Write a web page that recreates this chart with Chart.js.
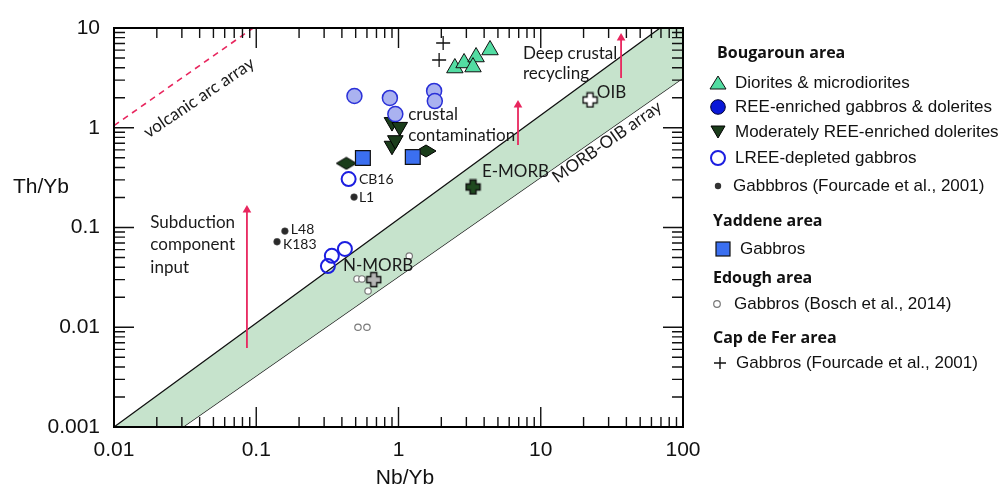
<!DOCTYPE html>
<html>
<head>
<meta charset="utf-8">
<title>Th/Yb vs Nb/Yb</title>
<script src="https://cdn.jsdelivr.net/npm/chart.js@4.4.1/dist/chart.umd.min.js"></script>
<style>
    html, body { margin: 0; padding: 0; background: #fff; }
    #wrap { position: relative; width: 1005px; height: 484px; overflow: hidden; }
    #chartBox { position: absolute; left: 0; top: 0; width: 1005px; height: 484px; }
    .axis-title {
        position: absolute;
        font-family: 'Liberation Sans', Arial, sans-serif;
        font-size: 21px;
        color: #111;
        white-space: nowrap;
        transform: translateY(-50%);
    }
    .lg-head {
        position: absolute;
        font-family: 'Open Sans', sans-serif;
        font-weight: 700;
        font-size: 16px;
        color: #111;
        white-space: nowrap;
        transform: translateY(-50%);
    }
    .lg-text {
        position: absolute;
        font-family: 'Liberation Sans', Arial, sans-serif;
        font-size: 17px;
        color: #111;
        white-space: nowrap;
        transform: translateY(-50%);
    }
    .lg-mark { position: absolute; width: 20px; height: 20px; }
</style>
</head>
<body>
<div id="wrap">
    <div id="chartBox"><canvas id="thybChart"></canvas></div>
    <div class="axis-title" style="left:13px; top:186px;">Th/Yb</div>
    <div class="axis-title" style="left:405px; top:477px; transform:translate(-50%,-50%);">Nb/Yb</div>
    <div id="legendBox"></div>
</div>
<script>
// ========================================
// Th/Yb vs Nb/Yb diagram
// ========================================

// axis ranges + tick labels
const xMin = 0.01, xMax = 100;
const yMin = 0.001, yMax = 10;
const xTickValues = [0.01, 0.1, 1, 10, 100];
const xTickLabels = ['0.01', '0.1', '1', '10', '100'];
const yTickValues = [0.001, 0.01, 0.1, 1, 10];
const yTickLabels = ['0.001', '0.01', '0.1', '1', '10'];

// Bougaroun area
const dioriteNb = [2.49, 2.89, 3.51, 3.34, 4.40];
const dioriteTh = [3.97, 4.46, 5.12, 4.06, 6.02];
const reeGabbroNb = [0.49, 0.87, 0.95, 1.78, 1.80];
const reeGabbroTh = [2.08, 1.99, 1.37, 2.34, 1.85];
const modDoleriteNb = [0.90, 1.02, 0.90, 0.95];
const modDoleriteTh = [1.14, 1.02, 0.66, 0.75];
const modDiamondNb = [0.43, 1.56];
const modDiamondTh = [0.44, 0.585];
const lreeGabbroNb = [0.446, 0.319, 0.340, 0.420];
const lreeGabbroTh = [0.306, 0.041, 0.052, 0.061];
const fourcadeNb = [0.487, 0.159, 0.140];
const fourcadeTh = [0.202, 0.092, 0.072];

// Yaddene area
const yaddeneNb = [0.562, 1.26];
const yaddeneTh = [0.497, 0.509];

// Edough area (Bosch et al., 2014)
const boschNb = [0.511, 0.553, 0.611, 1.19, 0.519, 0.60];
const boschTh = [0.0305, 0.0305, 0.0231, 0.0518, 0.0100, 0.0100];

// Cap de Fer area
const capFerNb = [2.06, 1.93];
const capFerTh = [7.07, 4.78];

// reference compositions
const refNames = ['N-MORB', 'E-MORB', 'OIB'];
const refNb = [0.67, 3.34, 22.2];
const refTh = [0.030, 0.255, 1.90];

// MORB-OIB array and volcanic arc array
const morbUpperNb = [0.01, 69, 100];
const morbUpperTh = [0.001, 10, 10];
const morbLowerNb = [0.01, 0.0305, 100];
const morbLowerTh = [0.001, 0.001, 3.16];
const arcNb = [0.01, 0.095];
const arcTh = [1.05, 10];

// vectors (subduction, crustal contamination, deep crustal recycling)
const arrowNb = [0.086, 6.92, 36.7];
const arrowFromTh = [0.0062, 0.671, 3.16];
const arrowToTh = [0.150, 1.69, 7.94];

const RED = '#e8265e';
const textFont = "'Lato', 'Open Sans', sans-serif";

function pts(xs, ys) {
    return xs.map((x, i) => ({ x: x, y: ys[i] }));
}

// little canvases for marker shapes Chart.js doesn't have
function makeDiamond(fill) {
    const c = document.createElement('canvas');
    c.width = 22; c.height = 14;
    const g = c.getContext('2d');
    g.beginPath();
    g.moveTo(1, 7); g.lineTo(11, 1); g.lineTo(21, 7); g.lineTo(11, 13);
    g.closePath();
    g.fillStyle = fill; g.fill();
    g.strokeStyle = '#000'; g.lineWidth = 1; g.stroke();
    return c;
}

function makePlus(fill) {
    const c = document.createElement('canvas');
    c.width = 17; c.height = 17;
    const g = c.getContext('2d');
    const a = 1.5, b = 5.5, d = 11.5, e = 15.5;
    g.beginPath();
    g.moveTo(b, a); g.lineTo(d, a); g.lineTo(d, b); g.lineTo(e, b); g.lineTo(e, d);
    g.lineTo(d, d); g.lineTo(d, e); g.lineTo(b, e); g.lineTo(b, d); g.lineTo(a, d);
    g.lineTo(a, b); g.lineTo(b, b);
    g.closePath();
    g.fillStyle = fill; g.fill();
    g.strokeStyle = '#111'; g.lineWidth = 1.4; g.stroke();
    return c;
}

// annotation texts (data coords)
const notes = [
    { text: 'Subduction', x: 0.018, y: 0.113 },
    { text: 'component', x: 0.018, y: 0.068 },
    { text: 'input', x: 0.018, y: 0.040 },
    { text: 'crustal', x: 1.17, y: 1.37 },
    { text: 'contamination', x: 1.17, y: 0.845 },
    { text: 'Deep crustal', x: 7.5, y: 5.6 },
    { text: 'recycling', x: 7.5, y: 3.46 },
    { text: 'OIB', x: 24.8, y: 2.28 },
    { text: 'E-MORB', x: 3.86, y: 0.368 },
    { text: 'N-MORB', x: 0.407, y: 0.042 },
    { text: 'CB16', x: 0.527, y: 0.306, small: true },
    { text: 'L1', x: 0.527, y: 0.202, small: true },
    { text: 'L48', x: 0.175, y: 0.0966, small: true },
    { text: 'K183', x: 0.154, y: 0.0668, small: true },
    { text: 'volcanic arc array', x: 0.0396, y: 2.0, rot: -34, center: true },
    { text: 'MORB-OIB array', x: 29.2, y: 0.72, rot: -35, center: true }
];

// frame, inward ticks, notes
const frameAndNotes = {
    id: 'frameAndNotes',
    afterDatasetsDraw(chart) {
        const ctx = chart.ctx;
        const a = chart.chartArea;
        const xs = chart.scales.x, ys = chart.scales.y;
        ctx.save();

        ctx.strokeStyle = '#111';
        ctx.lineWidth = 1.4;
        ctx.beginPath();
        for (let e = Math.round(Math.log10(xMin)); e < Math.round(Math.log10(xMax)); e++) {
            for (let m = 1; m <= 9; m++) {
                const px = xs.getPixelForValue(m * Math.pow(10, e));
                const len = m === 1 ? 20 : 10;
                ctx.moveTo(px, a.bottom); ctx.lineTo(px, a.bottom - len);
                ctx.moveTo(px, a.top); ctx.lineTo(px, a.top + len);
            }
        }
        for (let e = Math.round(Math.log10(yMin)); e < Math.round(Math.log10(yMax)); e++) {
            for (let m = 1; m <= 9; m++) {
                const py = ys.getPixelForValue(m * Math.pow(10, e));
                const len = m === 1 ? 20 : 11;
                ctx.moveTo(a.left, py); ctx.lineTo(a.left + len, py);
                ctx.moveTo(a.right, py); ctx.lineTo(a.right - len, py);
            }
        }
        ctx.stroke();

        ctx.lineWidth = 2;
        ctx.strokeStyle = '#000';
        ctx.strokeRect(a.left, a.top, a.right - a.left, a.bottom - a.top);

        ctx.fillStyle = '#1a1a1a';
        notes.forEach(n => {
            const px = xs.getPixelForValue(n.x);
            const py = ys.getPixelForValue(n.y);
            ctx.save();
            ctx.translate(px, py);
            if (n.rot) ctx.rotate(n.rot * Math.PI / 180);
            ctx.font = (n.small ? '14px ' : '17px ') + textFont;
            ctx.textAlign = n.center ? 'center' : 'left';
            ctx.textBaseline = 'middle';
            ctx.fillText(n.text, 0, 0);
            ctx.restore();
        });
        ctx.restore();
    }
};

const datasets = [
    // MORB-OIB band
    {
        type: 'line', data: pts(morbUpperNb, morbUpperTh),
        borderColor: '#111', borderWidth: 1.3, pointRadius: 0,
        backgroundColor: '#c6e3cc', fill: '+1', order: 100
    },
    {
        type: 'line', data: pts(morbLowerNb, morbLowerTh),
        borderColor: '#111', borderWidth: 1.3, pointRadius: 0,
        fill: false, order: 101
    },
    // volcanic arc array
    {
        type: 'line', data: pts(arcNb, arcTh),
        borderColor: RED, borderWidth: 1.6, borderDash: [6, 5], pointRadius: 0,
        fill: false, order: 90
    }
];

// arrows
arrowNb.forEach((nb, i) => {
    datasets.push({
        type: 'line',
        data: [{ x: nb, y: arrowFromTh[i] }, { x: nb, y: arrowToTh[i] }],
        borderColor: RED, borderWidth: 1.8,
        pointRadius: [0, 5], pointStyle: 'triangle',
        pointBackgroundColor: RED, pointBorderColor: RED, pointBorderWidth: 0,
        fill: false, order: 80
    });
});

datasets.push(
    {
        label: 'Gabbros (Bosch et al., 2014)', data: pts(boschNb, boschTh),
        pointStyle: 'circle', pointRadius: 3.2, pointBackgroundColor: '#fff',
        pointBorderColor: '#7a7a7a', pointBorderWidth: 1.2, order: 20
    },
    {
        label: 'Reference', data: pts(refNb, refTh),
        pointStyle: [makePlus('#b5b5b5'), makePlus('#1f4a1f'), makePlus('#ffffff')],
        pointRadius: 8, order: 10
    },
    {
        label: 'LREE-depleted gabbros', data: pts(lreeGabbroNb, lreeGabbroTh),
        pointStyle: 'circle', pointRadius: 7, pointBackgroundColor: 'rgba(255,255,255,0)',
        pointBorderColor: '#1c1ee0', pointBorderWidth: 2, order: 5
    },
    {
        label: 'Gabbbros (Fourcade et al., 2001)', data: pts(fourcadeNb, fourcadeTh),
        pointStyle: 'circle', pointRadius: 3.4, pointBackgroundColor: '#2a2a2a',
        pointBorderColor: '#555', pointBorderWidth: 0.5, order: 5
    },
    {
        label: 'Moderately REE-enriched dolerites (diamond)', data: pts(modDiamondNb, modDiamondTh),
        pointStyle: makeDiamond('#1b3d1b'), pointRadius: 8, order: 4
    },
    {
        label: 'Gabbros (Yaddene)', data: pts(yaddeneNb, yaddeneTh),
        pointStyle: 'rect', pointRadius: 10.5, pointBackgroundColor: '#3b6ff0',
        pointBorderColor: '#111', pointBorderWidth: 1.2, order: 3
    },
    {
        label: 'Moderately REE-enriched dolerites', data: pts(modDoleriteNb, modDoleriteTh),
        pointStyle: 'triangle', pointRotation: 180, pointRadius: 9,
        pointBackgroundColor: '#1b3d1b', pointBorderColor: '#000', pointBorderWidth: 1, order: 3
    },
    {
        label: 'REE-enriched gabbros & dolerites', data: pts(reeGabbroNb, reeGabbroTh),
        pointStyle: 'circle', pointRadius: 7.5, pointBackgroundColor: '#aab2f0',
        pointBorderColor: '#2a30d8', pointBorderWidth: 1.5, order: 2
    },
    {
        label: 'Diorites & microdiorites', data: pts(dioriteNb, dioriteTh),
        pointStyle: 'triangle', pointRadius: 9.5, pointBackgroundColor: '#52dca2',
        pointBorderColor: '#111', pointBorderWidth: 1, order: 1
    },
    {
        label: 'Gabbros (Cap de Fer)', data: pts(capFerNb, capFerTh),
        pointStyle: 'cross', pointRadius: 7, pointBorderColor: '#111',
        pointBorderWidth: 1.3, order: 1
    }
);

const axisTickFont = { family: "'Liberation Sans', Arial, sans-serif", size: 21 };

new Chart(document.getElementById('thybChart').getContext('2d'), {
    type: 'scatter',
    data: { datasets: datasets },
    options: {
        responsive: true,
        maintainAspectRatio: false,
        animation: false,
        layout: { padding: { left: 0, top: 28, right: 322, bottom: 0 } },
        plugins: {
            legend: { display: false },
            tooltip: { enabled: false }
        },
        scales: {
            x: {
                type: 'logarithmic',
                min: xMin, max: xMax,
                grid: { display: false, drawTicks: false },
                border: { display: false },
                afterBuildTicks: s => { s.ticks = xTickValues.map(v => ({ value: v })); },
                afterFit: s => { s.height = 57; },
                ticks: {
                    autoSkip: false, maxRotation: 0, padding: 11,
                    color: '#111', font: axisTickFont,
                    callback: (v, i) => xTickLabels[i]
                }
            },
            y: {
                type: 'logarithmic',
                min: yMin, max: yMax,
                grid: { display: false, drawTicks: false },
                border: { display: false },
                afterBuildTicks: s => { s.ticks = yTickValues.map(v => ({ value: v })); },
                afterFit: s => { s.width = 114; },
                ticks: {
                    autoSkip: false, padding: 14,
                    color: '#111', font: axisTickFont,
                    callback: (v, i) => yTickLabels[i]
                }
            }
        }
    },
    plugins: [frameAndNotes]
});

// ---- legend (html) ----
const legendRows = [
    { head: 'Bougaroun area', tx: 717, cy: 52 },
    { mark: 'triUp', mx: 718, tx: 735, cy: 83, text: 'Diorites & microdiorites' },
    { mark: 'dot', mx: 718, tx: 735, cy: 107, text: 'REE-enriched gabbros & dolerites' },
    { mark: 'triDown', mx: 718, tx: 735, cy: 132, text: 'Moderately REE-enriched dolerites' },
    { mark: 'ring', mx: 718, tx: 735, cy: 158, text: 'LREE-depleted gabbros' },
    { mark: 'small', mx: 718, tx: 733, cy: 186, text: 'Gabbbros (Fourcade et al., 2001)' },
    { head: 'Yaddene area', tx: 713, cy: 220 },
    { mark: 'square', mx: 723, tx: 740, cy: 249, text: 'Gabbros' },
    { head: 'Edough area', tx: 713, cy: 277 },
    { mark: 'grey', mx: 717, tx: 734, cy: 304, text: 'Gabbros (Bosch et al., 2014)' },
    { head: 'Cap de Fer area', tx: 713, cy: 337 },
    { mark: 'plus', mx: 720, tx: 736, cy: 363, text: 'Gabbros (Fourcade et al., 2001)' }
];

const markSvg = {
    triUp: '<polygon points="10,3 18,16 2,16" fill="#52dca2" stroke="#111" stroke-width="1"/>',
    dot: '<circle cx="10" cy="10" r="7.3" fill="#0a18d8" stroke="#000030" stroke-width="1"/>',
    triDown: '<polygon points="3,4 17,4 10,16" fill="#1b3d1b" stroke="#000" stroke-width="1"/>',
    ring: '<circle cx="10" cy="10" r="7" fill="none" stroke="#1c1ee0" stroke-width="2"/>',
    small: '<circle cx="10" cy="10" r="3.2" fill="#333"/>',
    square: '<rect x="3" y="3" width="14" height="14" fill="#3b6ff0" stroke="#111" stroke-width="1.2"/>',
    grey: '<circle cx="10" cy="10" r="3.3" fill="#fff" stroke="#777" stroke-width="1.2"/>',
    plus: '<path d="M4 10 H16 M10 4 V16" stroke="#111" stroke-width="1.4"/>'
};

const legendBox = document.getElementById('legendBox');
let html = '';
legendRows.forEach(r => {
    if (r.head) {
        html += `<div class="lg-head" style="left:${r.tx}px; top:${r.cy}px;">${r.head}</div>`;
        return;
    }
    html += `<svg class="lg-mark" style="left:${r.mx - 10}px; top:${r.cy - 10}px;" viewBox="0 0 20 20">${markSvg[r.mark]}</svg>`;
    html += `<div class="lg-text" style="left:${r.tx}px; top:${r.cy}px;">${r.text.replace('&', '&amp;')}</div>`;
});
legendBox.innerHTML = html;
</script>
</body>
</html>
